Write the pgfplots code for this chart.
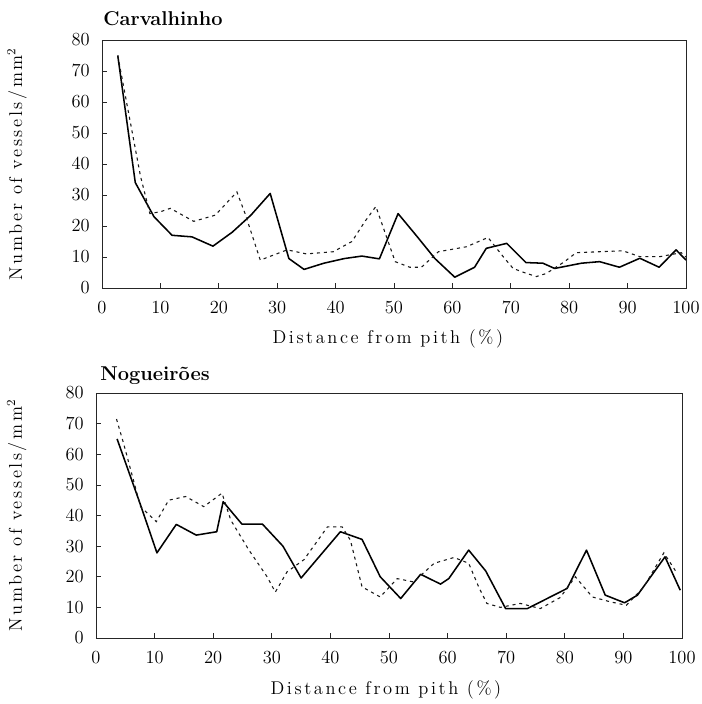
\documentclass[border=0pt]{standalone}
\usepackage{fontspec}
\setmainfont{Latin Modern Roman}
\newfontfamily\labfont{Latin Modern Roman}[LetterSpace=14]
\usepackage{pgfplots}
\pgfplotsset{compat=1.18}

\pgfplotstableread{
x y
2.7 75
5.7 34
8.9 23
12.0 17
15.4 16.5
19.0 13.5
22.3 18
25.5 23.5
28.8 30.5
32.0 9.5
34.6 6
38.0 8
41.5 9.5
44.5 10.3
47.5 9.4
50.7 24
54.0 16.5
57.0 9.5
60.4 3.5
63.8 6.7
65.8 12.8
69.3 14.4
72.6 8.2
75.5 8
77.5 6.3
82.1 8
85.2 8.5
88.6 6.7
92.1 9.6
95.4 6.7
98.3 12.3
100 9
}\topsolid

\pgfplotstableread{
x y
2.7 75
4.5 57
6.6 36
8.2 24
10.0 24.6
11.7 25.7
15.7 21.5
19.4 23.5
23.1 31
24.5 24
27.1 9
31.7 12.3
35.0 11
39.6 11.7
42.8 15
45.0 21.4
46.9 26.3
48.2 19.3
50.2 8.5
52.7 6.7
54.7 6.7
57.6 11.7
62.4 13.3
66.1 16.3
68.7 10.1
70.4 6.3
72.7 4.7
74.4 3.7
76.1 4.7
79.2 8.5
81.2 11.4
85.2 11.7
89.2 12
92.1 10.1
95.5 10.1
99.2 11.4
100 10
}\topdashed

\pgfplotstableread{
x y
3.6 65
7.5 44
10.4 27.8
13.7 37.1
17.1 33.6
20.6 34.7
21.7 44.5
24.9 37.2
28.4 37.2
31.9 30
35.0 19.6
41.7 34.7
45.4 32.2
48.5 20
52.0 12.9
55.4 20.8
58.8 17.6
60.2 19.4
63.6 28.7
66.5 21.9
69.9 9.6
73.6 9.6
80.4 16.2
83.7 28.7
86.9 14
90.2 11.5
92.4 14
97.1 26.5
99.7 15.6
}\botsolid

\pgfplotstableread{
x y
3.5 71.5
4.7 63.6
7.6 42.9
10.3 38
12.4 45
15.3 46.2
18.4 42.9
21.5 47.3
23.0 38.5
26.1 28.7
29.2 20
30.6 15
32.6 21.6
35.5 25.6
39.5 36.3
42.0 36.3
43.4 32
45.4 16.7
48.5 13.4
51.4 19.4
54.2 18.3
57.7 24.4
61.1 26.3
63.6 24.4
65.3 16.7
66.7 11.3
69.0 10
72.4 11.3
75.8 9.6
79.2 13.2
81.8 20
84.7 13.4
87.8 11.8
90.5 10.7
93.5 16.7
96.9 27.8
99.2 21
}\botdashed

\pgfplotsset{
  vesselstyle/.style={
    scale only axis,
    xmin=0, xmax=100, ymin=0, ymax=80,
    xtick={0,10,...,100}, ytick={0,10,...,80},
    tick pos=left, tick align=inside,
    major tick length=3pt,
    tick style={black!85, line width=0.5pt},
    axis line style={black!85, line width=0.6pt},
    ticklabel style={font=\fontsize{12}{14}\selectfont},
    xticklabel shift=5pt, yticklabel shift=4.5pt,
    xlabel={Distance from pith (\%)},
    ylabel={Number of vessels/mm$^2$},
    ylabel style={font=\labfont\fontsize{12}{14}\selectfont, anchor=center},
    title style={font=\fontsize{13}{15}\selectfont\bfseries, anchor=base west, inner sep=0pt},
  },
  solidline/.style={black, line width=1pt, line join=round},
  dashline/.style={black!90, line width=0.7pt, dash pattern=on 2pt off 2.5pt},
}

\begin{document}
\begin{tikzpicture}
\begin{axis}[vesselstyle, width=379.6pt, height=161.2pt, at={(0,0)}, anchor=south west,
  xlabel style={font=\labfont\fontsize{12}{14}\selectfont, at={(axis description cs:0.5,0)}, anchor=base, yshift=-36pt, xshift=-4pt},
  ylabel style={at={(axis description cs:-0.1455,0.5)}},
  title={Carvalhinho}, title style={at={([xshift=0.7pt,yshift=3.75pt]axis description cs:0,1)}}]
\addplot[solidline] table[x=x,y=y] {\topsolid};
\addplot[dashline] table[x=x,y=y] {\topdashed};
\end{axis}
\begin{axis}[vesselstyle, width=380.9pt, height=159.25pt, at={(-3.9pt,-227.5pt)}, anchor=south west,
  xlabel style={font=\labfont\fontsize{12}{14}\selectfont, at={(axis description cs:0.5,0)}, anchor=base, yshift=-37pt, xshift=-2pt},
  ylabel style={at={(axis description cs:-0.135,0.5)}},
  title={Nogueirões}, title style={at={([xshift=2.6pt,yshift=2.45pt]axis description cs:0,1)}}]
\addplot[solidline] table[x=x,y=y] {\botsolid};
\addplot[dashline] table[x=x,y=y] {\botdashed};
\end{axis}
\pgfresetboundingbox
\useasboundingbox (-66.3pt,-270.4pt) rectangle (389.35pt,187.2pt);
\end{tikzpicture}
\end{document}
